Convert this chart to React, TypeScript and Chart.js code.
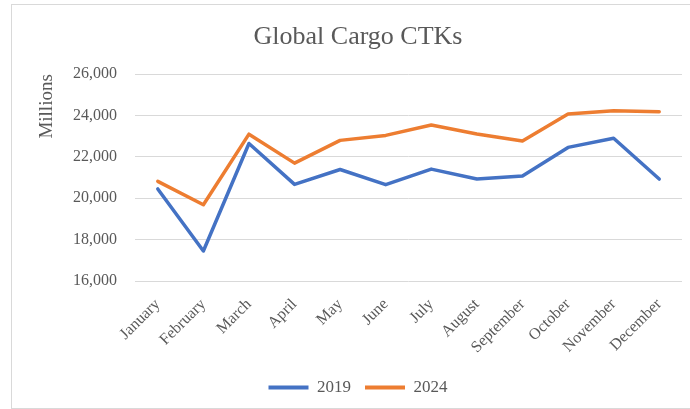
import React, { useEffect, useRef } from "react";
import { Chart, registerables } from "chart.js";

Chart.register(...registerables);

const months = [
  "January", "February", "March", "April", "May", "June",
  "July", "August", "September", "October", "November", "December",
];
const series2019 = [20450, 17450, 22650, 20670, 21390, 20660, 21410, 20930, 21080, 22460, 22900, 20930];
const series2024 = [20820, 19690, 23100, 21700, 22800, 23040, 23540, 23110, 22770, 24080, 24230, 24190];
const yMin = 16000;
const yMax = 26000;
const yStep = 2000;

const SERIF = "'Liberation Serif', 'Times New Roman', serif";
const TEXT = "#595959";
const GRID = "#d9d9d9";
const BLUE = "#4472C4";
const ORANGE = "#ED7D31";

const framePlugin = {
  id: "frame",
  beforeDraw(chart: any) {
    const { ctx, width, height } = chart;
    ctx.save();
    ctx.fillStyle = "#ffffff";
    ctx.fillRect(0, 0, width, height);
    ctx.strokeStyle = GRID;
    ctx.lineWidth = 1;
    ctx.strokeRect(11.5, 4.5, width + 20, height - 5);
    ctx.restore();
  },
};

export default function App() {
  const ref = useRef<HTMLCanvasElement | null>(null);

  useEffect(() => {
    if (!ref.current) return;
    const chart = new Chart(ref.current, {
      type: "line",
      data: {
        labels: months,
        datasets: [
          {
            label: "2019",
            data: series2019,
            borderColor: BLUE,
            backgroundColor: BLUE,
            borderWidth: 3.5,
            pointRadius: 0,
            tension: 0,
            borderJoinStyle: "round",
            borderCapStyle: "round",
          },
          {
            label: "2024",
            data: series2024,
            borderColor: ORANGE,
            backgroundColor: ORANGE,
            borderWidth: 3.5,
            pointRadius: 0,
            tension: 0,
            borderJoinStyle: "round",
            borderCapStyle: "round",
          },
        ],
      },
      options: {
        responsive: false,
        animation: false,
        events: [],
        layout: { padding: { left: 34, right: 8, top: 0, bottom: 3 } },
        plugins: {
          title: {
            display: true,
            text: "Global Cargo CTKs",
            color: TEXT,
            font: { family: SERIF, size: 26, weight: "normal" },
            padding: { top: 22, bottom: 21 },
          },
          legend: {
            position: "bottom",
            labels: {
              color: TEXT,
              font: { family: SERIF, size: 17 },
              boxWidth: 40,
              boxHeight: 4,
              padding: 14,
              generateLabels: (c: any) =>
                Chart.defaults.plugins.legend.labels
                  .generateLabels(c)
                  .map((it: any) => ({ ...it, lineWidth: 0 })),
            },
          },
          tooltip: { enabled: false },
        },
        scales: {
          x: {
            offset: true,
            grid: { display: false },
            border: { display: false },
            ticks: {
              color: TEXT,
              font: { family: SERIF, size: 16 },
              minRotation: 45,
              maxRotation: 45,
              autoSkip: false,
              padding: 6,
            },
            afterFit: (s: any) => {
              s.height = 84;
            },
          },
          y: {
            min: yMin,
            max: yMax,
            border: { display: false },
            grid: { color: GRID, lineWidth: 1, drawTicks: false },
            ticks: {
              stepSize: yStep,
              padding: 18,
              color: TEXT,
              font: { family: SERIF, size: 16 },
              callback: (v: any) => Number(v).toLocaleString("en-US"),
            },
            title: {
              display: true,
              text: "Millions",
              align: "end",
              color: TEXT,
              font: { family: SERIF, size: 19 },
              padding: { top: 2, bottom: 0 },
            },
            afterFit: (s: any) => {
              s.width = 101;
            },
          },
        },
      },
      plugins: [framePlugin],
    });
    return () => chart.destroy();
  }, []);

  return (
    <div style={{ position: "fixed", left: 0, top: 0, width: 690, height: 409 }}>
      <canvas ref={ref} width={690} height={409} style={{ display: "block" }} />
    </div>
  );
}
